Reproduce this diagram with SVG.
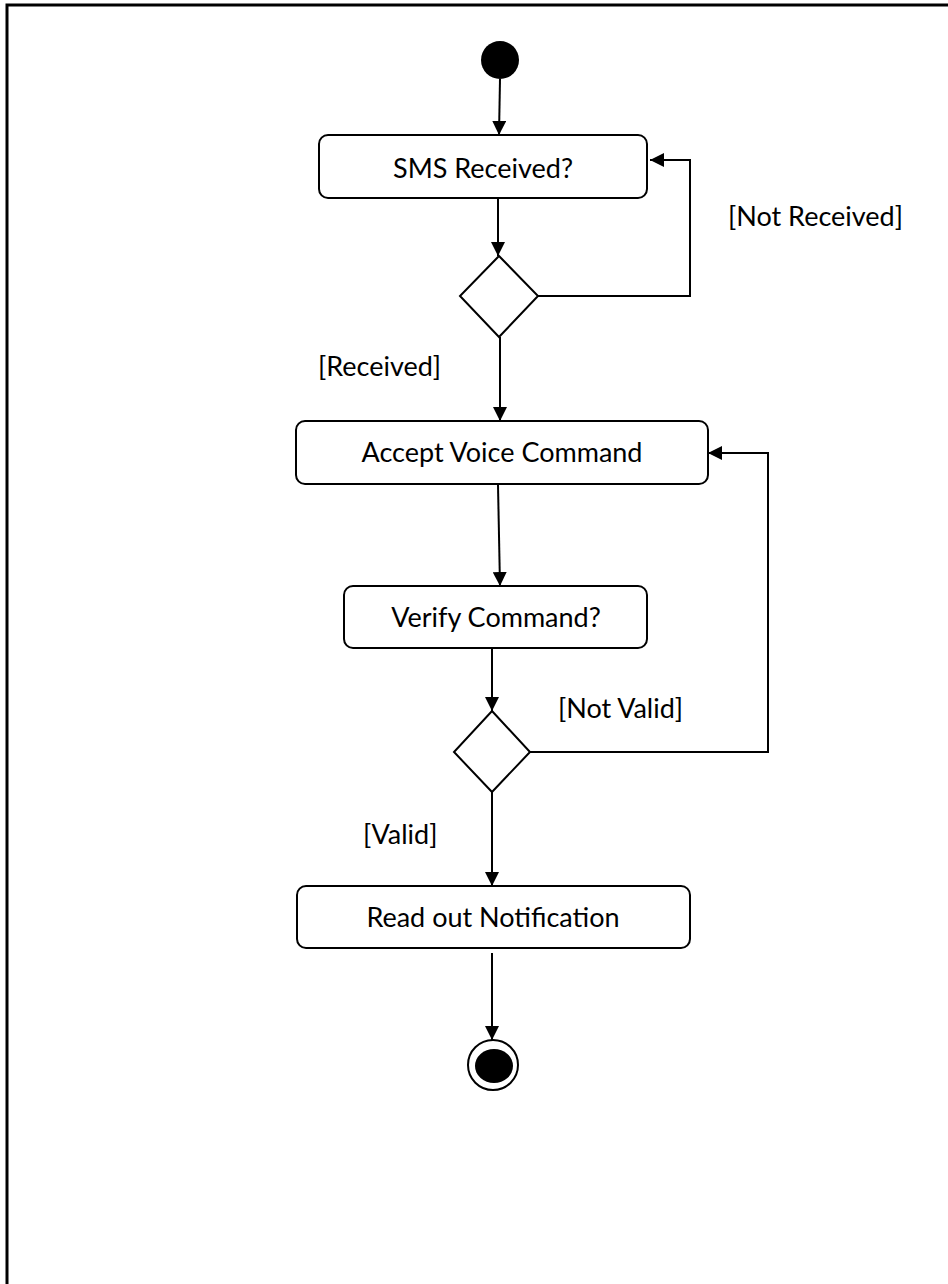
<svg xmlns="http://www.w3.org/2000/svg" width="948" height="1284" viewBox="0 0 948 1284">
<style>
.node{fill:#fff;stroke:#000;stroke-width:2}
.lbl{font-family:Lato,"Open Sans","Liberation Sans",sans-serif;font-size:27px;fill:#000}
.mid{text-anchor:middle}
.edge{fill:none;stroke:#000;stroke-width:2}
</style>
<defs>
<marker id="ah" markerWidth="12" markerHeight="14" viewBox="0 0 12 14" refX="14" refY="7" orient="auto" markerUnits="userSpaceOnUse">
<path d="M0,0 L14,7 L0,14 Z" fill="#000"/>
</marker>
</defs>
<rect width="948" height="1284" fill="#fff"/>
<path d="M7,1284 V5 H948" fill="none" stroke="#000" stroke-width="3"/>
<g id="start"><circle cx="500" cy="60" r="19" fill="#000"/></g>
<g id="sms"><rect class="node" x="319" y="135" width="328" height="63" rx="9"/><text class="lbl mid" x="483" y="178">SMS Received?</text></g>
<g id="dec1"><polygon class="node" points="499,256 538,296 499,337 460,296"/></g>
<g id="accept"><rect class="node" x="296" y="421" width="412" height="63" rx="9"/><text class="lbl mid" x="502" y="462">Accept Voice Command</text></g>
<g id="verify"><rect class="node" x="344" y="586" width="303" height="62" rx="9"/><text class="lbl mid" x="496" y="627">Verify Command?</text></g>
<g id="dec2"><polygon class="node" points="492,711 530,752 492,792 454,752"/></g>
<g id="read"><rect class="node" x="297" y="886" width="393" height="62" rx="9"/><text class="lbl mid" x="493" y="927">Read out Notification</text></g>
<g id="end"><circle cx="493" cy="1065" r="25" fill="#fff" stroke="#000" stroke-width="2"/><ellipse cx="494" cy="1066" rx="19" ry="17" fill="#000"/></g>
<g id="connectors">
<path class="edge" d="M500,79 L499,135" marker-end="url(#ah)"/>
<path class="edge" d="M498,198 L498,256" marker-end="url(#ah)"/>
<path class="edge" d="M538,296 H690 V160 H650" marker-end="url(#ah)"/>
<path class="edge" d="M500,337 L500,421" marker-end="url(#ah)"/>
<path class="edge" d="M498,485 L500,586" marker-end="url(#ah)"/>
<path class="edge" d="M492,648 L492,711" marker-end="url(#ah)"/>
<path class="edge" d="M530,752 H768 V453 H708" marker-end="url(#ah)"/>
<path class="edge" d="M492,792 L492,886" marker-end="url(#ah)"/>
<path class="edge" d="M492,953 L492,1040" marker-end="url(#ah)"/>
</g>
<g id="labels">
<text class="lbl" x="728" y="226">[Not Received]</text>
<text class="lbl" x="318" y="376">[Received]</text>
<text class="lbl" x="558" y="718">[Not Valid]</text>
<text class="lbl" x="363" y="844">[Valid]</text>
</g>
</svg>
